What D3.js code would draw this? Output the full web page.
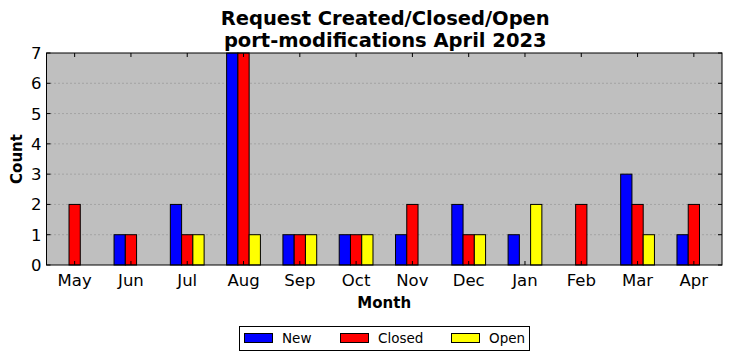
<!DOCTYPE html>
<html><head><meta charset="utf-8">
<script src="https://cdn.jsdelivr.net/npm/d3@7"></script>
<style>body{margin:0;background:#fff;} svg{display:block;font-family:"DejaVu Sans",sans-serif;}</style>
</head><body><svg id="c" width="732" height="361"></svg>
<script>
const months = ["May","Jun","Jul","Aug","Sep","Oct","Nov","Dec","Jan","Feb","Mar","Apr"];
const newVals = [0,1,2,7,1,1,1,2,1,0,3,1];
const closedVals = [2,1,1,7,1,1,2,1,0,2,2,2];
const openVals = [0,0,1,1,1,1,0,1,2,0,1,0];
const yTicks = [0,1,2,3,4,5,6,7];
const seriesNames = ["New","Closed","Open"];
const colors = ["#0000ff","#ff0000","#ffff00"];
const series = [newVals, closedVals, openVals];

const svg = d3.select("#c");
const L=46.5, R=722, T=53, B=265;
const x = d3.scaleLinear().domain([-0.5, 11.5]).range([L, R]);
const y = d3.scaleLinear().domain([0, 7]).range([B, T]);
const bw = x(0.2) - x(0);

svg.append("rect").attr("x",L).attr("y",T).attr("width",R-L).attr("height",B-T).attr("fill","#bfbfbf");
// grid
svg.append("g").selectAll("line").data(yTicks.slice(1,-1)).join("line")
  .attr("x1",L).attr("x2",R).attr("y1",d=>y(d)).attr("y2",d=>y(d))
  .attr("stroke","#888").attr("stroke-width",1).attr("stroke-dasharray","1,3");

series.forEach((vals, s) => {
  svg.append("g").selectAll("rect").data(vals).join("rect")
    .attr("x",(d,i)=>x(i + (s-1)*0.2 - 0.1))
    .attr("width",bw)
    .attr("y",d=>y(d))
    .attr("height",d=>B-y(d))
    .attr("fill",colors[s]).attr("stroke","#000").attr("stroke-width",1);
});

// ticks inward
const tg = svg.append("g").attr("stroke","#000").attr("stroke-width",1);
months.forEach((m,i)=>{
  tg.append("line").attr("x1",x(i)).attr("x2",x(i)).attr("y1",B).attr("y2",B-4);
  tg.append("line").attr("x1",x(i)).attr("x2",x(i)).attr("y1",T).attr("y2",T+4);
});
yTicks.forEach(v=>{
  tg.append("line").attr("x1",L).attr("x2",L+4).attr("y1",y(v)).attr("y2",y(v));
  tg.append("line").attr("x1",R).attr("x2",R-4).attr("y1",y(v)).attr("y2",y(v));
});
svg.append("rect").attr("x",L).attr("y",T).attr("width",R-L).attr("height",B-T).attr("fill","none").attr("stroke","#000").attr("stroke-width",1);

// tick labels
svg.append("g").selectAll("text").data(months).join("text")
  .attr("x",(d,i)=>x(i)).attr("y",B+21).attr("text-anchor","middle")
  .attr("font-size",16.5).text(d=>d);
svg.append("g").selectAll("text").data(yTicks).join("text")
  .attr("x",L-5).attr("y",d=>y(d)+6).attr("text-anchor","end")
  .attr("font-size",16.5).text(d=>d);

// axis labels
svg.append("text").attr("x",(L+R)/2).attr("y",308).attr("text-anchor","middle")
  .attr("font-size",15).attr("font-weight","bold").text("Month");
svg.append("text").attr("transform",`translate(22,${(T+B)/2}) rotate(-90)`).attr("text-anchor","middle")
  .attr("font-size",15).attr("font-weight","bold").text("Count");

// title
svg.append("text").attr("x",(L+R)/2+1).attr("y",25).attr("text-anchor","middle")
  .attr("font-size",19.5).attr("font-weight","bold").text("Request Created/Closed/Open");
svg.append("text").attr("x",(L+R)/2+1).attr("y",47).attr("text-anchor","middle")
  .attr("font-size",19.5).attr("font-weight","bold").text("port-modifications April 2023");

// legend
const lg = svg.append("g");
lg.append("rect").attr("x",239.5).attr("y",326.5).attr("width",290).attr("height",24).attr("fill","#fff").attr("stroke","#000");
const lx = [244, 340, 451];
seriesNames.forEach((n,i)=>{
  lg.append("rect").attr("x",lx[i]+0.5).attr("y",333.5).attr("width",28).attr("height",9).attr("fill",colors[i]).attr("stroke","#000");
  lg.append("text").attr("x",lx[i]+38).attr("y",343).attr("font-size",13.5).text(n);
});
</script></body></html>
